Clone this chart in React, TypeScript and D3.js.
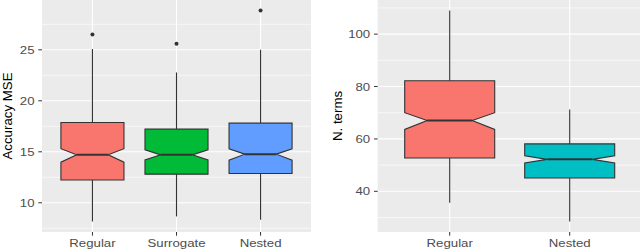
import React from "react";
import * as d3 from "d3";

// ---------- data ----------
const leftCategories = ["Regular", "Surrogate", "Nested"];
const leftColors = ["#F8766D", "#00BA38", "#619CFF"];
const leftLower = [8.17, 8.66, 8.33];
const leftQ1 = [12.23, 12.81, 12.87];
const leftMedian = [14.7, 14.7, 14.77];
const leftQ3 = [17.87, 17.22, 17.81];
const leftUpper = [25.07, 22.78, 25.0];
const leftNotchLow = [13.98, 14.2, 14.18];
const leftNotchHigh = [15.3, 15.2, 15.3];
const leftOutliers = [[26.5], [25.6], [28.85]];
const leftTicks = [10, 15, 20, 25];
const leftMinorTicks = [7.5, 12.5, 17.5, 22.5, 27.5];
const leftTitle = "Accuracy MSE";

const rightCategories = ["Regular", "Nested"];
const rightColors = ["#F8766D", "#00BFC4"];
const rightLower = [35.6, 28.5];
const rightQ1 = [52.7, 45.1];
const rightMedian = [67.0, 52.2];
const rightQ3 = [82.2, 58.1];
const rightUpper = [109.0, 71.2];
const rightNotchLow = [63.6, 50.8];
const rightNotchHigh = [70.0, 53.6];
const rightOutliers: number[][] = [[], []];
const rightTicks = [40, 60, 80, 100];
const rightMinorTicks = [30, 50, 70, 90, 110];
const rightTitle = "N. terms";

const FONT = "'Liberation Sans', Arial, sans-serif";
const SX = 1.15;

type PanelProps = {
  x0: number;
  x1: number;
  y0: number;
  y1: number;
  cats: string[];
  colors: string[];
  lower: number[];
  q1: number[];
  med: number[];
  q3: number[];
  upper: number[];
  nlo: number[];
  nhi: number[];
  outliers: number[][];
  ticks: number[];
  minor: number[];
  title: string;
  titleX: number;
};

function Panel(p: PanelProps) {
  const all = [...p.lower, ...p.upper, ...p.outliers.flat()];
  const lo = d3.min(all)!;
  const hi = d3.max(all)!;
  const pad = (hi - lo) * 0.05;
  const y = d3.scaleLinear().domain([lo - pad, hi + pad]).range([p.y1, p.y0]);
  const n = p.cats.length;
  const x = d3
    .scaleLinear()
    .domain([0.4, n + 0.6])
    .range([p.x0, p.x1]);
  const unit = x(2) - x(1);
  const bw = unit * 0.75;
  const tickCol = "#333333";
  const labCol = "#4D4D4D";
  return (
    <g>
      <defs>
        <clipPath id={"clip" + p.x0}>
          <rect x={p.x0} y={p.y0} width={p.x1 - p.x0} height={p.y1 - p.y0} />
        </clipPath>
      </defs>
      <rect x={p.x0} y={p.y0} width={p.x1 - p.x0} height={p.y1 - p.y0} fill="#EBEBEB" />
      <g clipPath={`url(#clip${p.x0})`}>
        {p.minor.map((t) => (
          <line key={"m" + t} x1={p.x0} x2={p.x1} y1={y(t)} y2={y(t)} stroke="#fff" strokeWidth={0.6} />
        ))}
        {p.ticks.map((t) => (
          <line key={"t" + t} x1={p.x0} x2={p.x1} y1={y(t)} y2={y(t)} stroke="#fff" strokeWidth={1.1} />
        ))}
        {p.cats.map((c, i) => (
          <line key={"v" + c} x1={x(i + 1)} x2={x(i + 1)} y1={p.y0} y2={p.y1} stroke="#fff" strokeWidth={1.1} />
        ))}
        {p.cats.map((c, i) => {
          const cx = x(i + 1);
          const l = cx - bw / 2;
          const r = cx + bw / 2;
          const ins = bw * 0.25;
          const pts: [number, number][] = [
            [l, y(p.q3[i])],
            [l, y(p.nhi[i])],
            [l + ins, y(p.med[i])],
            [l, y(p.nlo[i])],
            [l, y(p.q1[i])],
            [r, y(p.q1[i])],
            [r, y(p.nlo[i])],
            [r - ins, y(p.med[i])],
            [r, y(p.nhi[i])],
            [r, y(p.q3[i])],
          ];
          const path = d3.line()(pts) + "Z";
          return (
            <g key={"b" + c}>
              <line x1={cx} x2={cx} y1={y(p.upper[i])} y2={y(p.q3[i])} stroke={tickCol} strokeWidth={1.1} />
              <line x1={cx} x2={cx} y1={y(p.lower[i])} y2={y(p.q1[i])} stroke={tickCol} strokeWidth={1.1} />
              <path d={path} fill={p.colors[i]} stroke={tickCol} strokeWidth={1.1} />
              <line x1={l + ins} x2={r - ins} y1={y(p.med[i])} y2={y(p.med[i])} stroke={tickCol} strokeWidth={2} />
              {p.outliers[i].map((o, j) => (
                <circle key={j} cx={cx} cy={y(o)} r={2} fill={tickCol} />
              ))}
            </g>
          );
        })}
      </g>
      {p.ticks.map((t) => (
        <g key={"yl" + t}>
          <line x1={p.x0 - 3.7} x2={p.x0} y1={y(t)} y2={y(t)} stroke={tickCol} strokeWidth={1} />
          <text
            transform={`translate(${p.x0 - 7.5},${y(t)}) scale(${SX},1)`}
            dy="0.36em"
            textAnchor="end"
            fontSize={11.5}
            fill={labCol}
            fontFamily={FONT}
          >
            {t}
          </text>
        </g>
      ))}
      {p.cats.map((c, i) => (
        <g key={"xl" + c}>
          <line x1={x(i + 1)} x2={x(i + 1)} y1={p.y1} y2={p.y1 + 3.7} stroke={tickCol} strokeWidth={1} />
          <text
            transform={`translate(${x(i + 1)},${p.y1 + 14.5}) scale(${SX},1)`}
            textAnchor="middle"
            fontSize={11.5}
            fill={labCol}
            fontFamily={FONT}
          >
            {c}
          </text>
        </g>
      ))}
      <text
        transform={`translate(${p.titleX},${(p.y0 + p.y1) / 2}) rotate(-90)`}
        textAnchor="middle"
        fontSize={13.3}
        fill="#000"
        fontFamily={FONT}
      >
        {p.title}
      </text>
    </g>
  );
}

export default function App() {
  return (
    <svg
      width={640}
      height={250}
      style={{ position: "absolute", left: 0, top: 0, background: "#fff" }}
    >
      <rect width={640} height={250} fill="#fff" />
      <Panel
        x0={42}
        x1={311}
        y0={0}
        y1={232}
        cats={leftCategories}
        colors={leftColors}
        lower={leftLower}
        q1={leftQ1}
        med={leftMedian}
        q3={leftQ3}
        upper={leftUpper}
        nlo={leftNotchLow}
        nhi={leftNotchHigh}
        outliers={leftOutliers}
        ticks={leftTicks}
        minor={leftMinorTicks}
        title={leftTitle}
        titleX={12}
      />
      <Panel
        x0={377.7}
        x1={641.7}
        y0={0}
        y1={232}
        cats={rightCategories}
        colors={rightColors}
        lower={rightLower}
        q1={rightQ1}
        med={rightMedian}
        q3={rightQ3}
        upper={rightUpper}
        nlo={rightNotchLow}
        nhi={rightNotchHigh}
        outliers={rightOutliers}
        ticks={rightTicks}
        minor={rightMinorTicks}
        title={rightTitle}
        titleX={342}
      />
    </svg>
  );
}
